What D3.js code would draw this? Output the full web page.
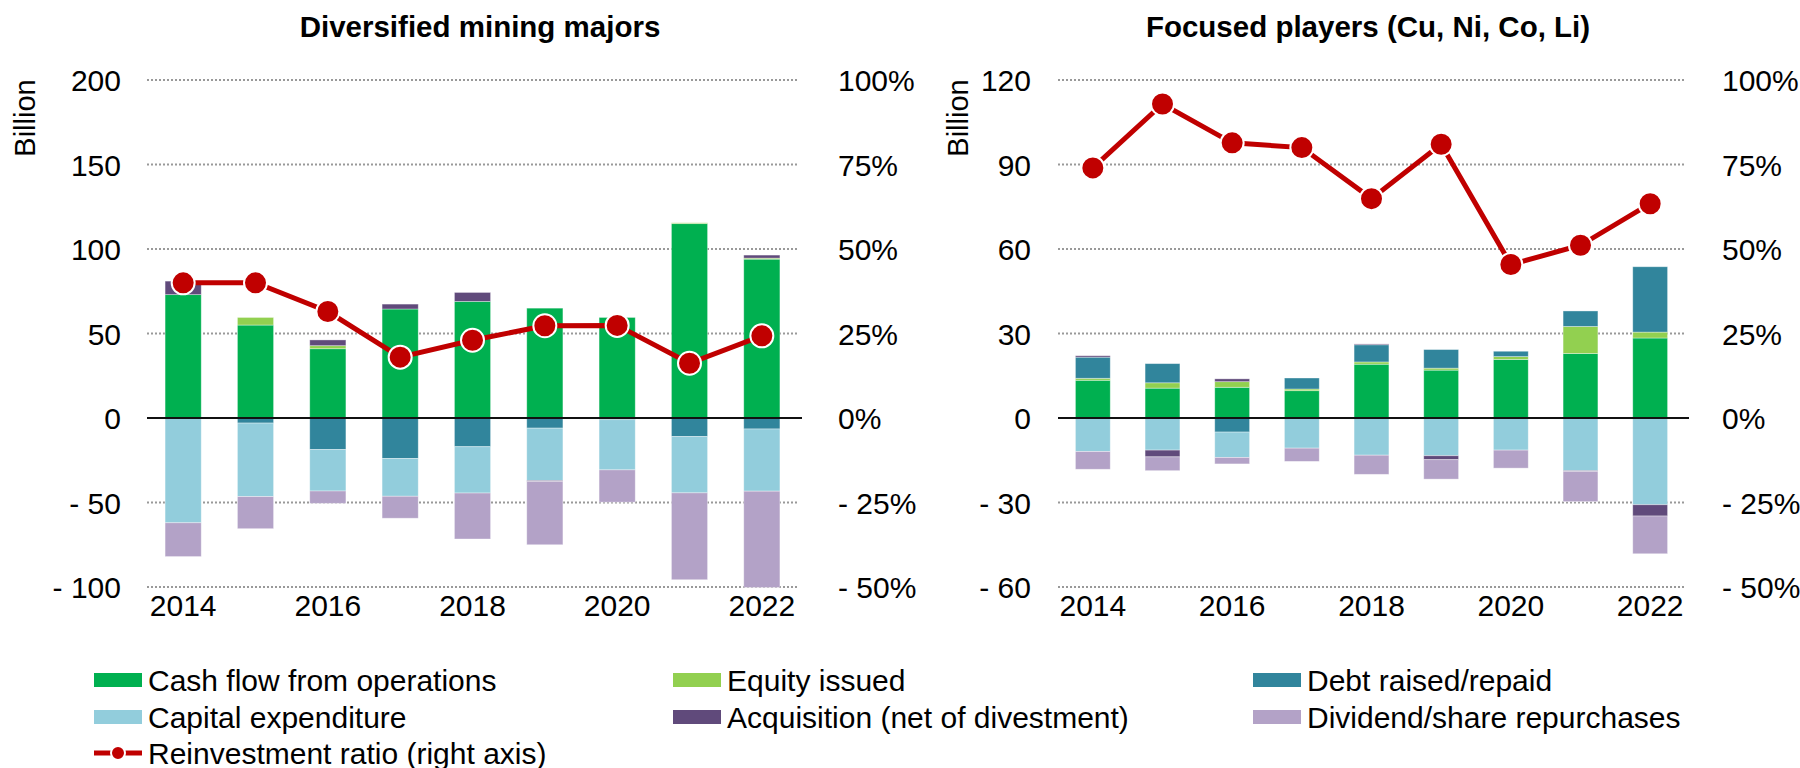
<!DOCTYPE html>
<html>
<head>
<meta charset="utf-8">
<script src="https://cdn.jsdelivr.net/npm/d3@7"></script>
<style>
  body { margin: 0; background: #fff; }
  text { font-family: "Liberation Sans", Arial, sans-serif; fill: #000; }
</style>
</head>
<body>
<div id="graph"></div>
<script>
// years on the x axis, only even ones get a label
var years = [2014, 2015, 2016, 2017, 2018, 2019, 2020, 2021, 2022];
var yearLabels = [2014, 2016, 2018, 2020, 2022];

// Diversified mining majors (billion, ratio in %)
var majorsCfo    = [73, 55, 41, 64.5, 69, 65, 59.5, 115, 94];
var majorsEquity = [0, 4.5, 1.8, 0, 0, 0, 0, 0.5, 0.6];
var majorsDebt   = [0, -3, -18.7, -24, -17, -6, -1, -11, -6.5];
var majorsCapex  = [-62, -43.5, -24.5, -22.3, -27.4, -31, -29.7, -33.3, -36.8];
var majorsAcq    = [8, 0, 3.4, 2.9, 5.3, -0.6, 0, 0, 1.8];
var majorsDiv    = [-20, -19, -7.3, -13, -27.2, -37.4, -19.1, -51.4, -57];
var majorsRatio  = [40, 40, 31.5, 18, 23, 27.3, 27.4, 16.2, 24.3];
var majorsTicks  = [200, 150, 100, 50, 0, -50, -100];

// Focused players (Cu, Ni, Co, Li)
var focusedCfo    = [13.4, 10.6, 10.9, 9.7, 19.1, 17, 20.8, 22.9, 28.4];
var focusedEquity = [0.7, 1.9, 2, 0.6, 0.8, 0.7, 1, 9.6, 2.1];
var focusedDebt   = [7.5, 6.8, -5, 3.9, 6.1, 6.6, 1.9, 5.5, 23.2];
var focusedCapex  = [-11.9, -11.4, -9, -10.7, -13.2, -13.4, -11.4, -18.7, -30.8];
var focusedAcq    = [0.5, -2.4, 1, 0, 0.3, -1.4, 0, -0.3, -4];
var focusedDiv    = [-6.3, -4.9, -2.3, -4.7, -6.8, -6.9, -6.4, -10.7, -13.4];
var focusedRatio  = [74, 92.9, 81.4, 80, 64.9, 81, 45.4, 51.1, 63.4];
var focusedTicks  = [120, 90, 60, 30, 0, -30, -60];

var pctTicks = [100, 75, 50, 25, 0, -25, -50];

var seriesKeys = ["cfo", "equity", "debt", "capex", "acq", "div"];
var seriesNames = {
    cfo: "Cash flow from operations",
    equity: "Equity issued",
    debt: "Debt raised/repaid",
    capex: "Capital expenditure",
    acq: "Acquisition (net of divestment)",
    div: "Dividend/share repurchases"
};
var colors = {
    cfo: "#00B050",
    equity: "#92D050",
    debt: "#31859C",
    capex: "#92CDDC",
    acq: "#604A7B",
    div: "#B3A2C7"
};
var lineColor = "#C00000";
var fontSize = "30px";

var svg = d3.select("#graph")
    .append("svg")
    .attr("width", 1800)
    .attr("height", 768);

function fmtNum(v) {
    return v < 0 ? "- " + Math.abs(v) : "" + v;
}

function drawPanel(p) {
    var g = svg.append("g");

    var table = years.map(function (yr, i) {
        return {year: yr, cfo: p.cfo[i], equity: p.equity[i], debt: p.debt[i],
            capex: p.capex[i], acq: p.acq[i], div: p.div[i], ratio: p.ratio[i]};
    });

    var x = d3.scaleBand()
        .domain(years)
        .range([p.left, p.right])
        .paddingInner(0.5)
        .paddingOuter(0.25);
    var y = d3.scaleLinear()
        .domain([p.ticks[p.ticks.length - 1], p.ticks[0]])
        .range([587, 80]);
    var yPct = d3.scaleLinear()
        .domain([-50, 100])
        .range([587, 80]);

    // title
    g.append("text")
        .attr("x", p.titleX)
        .attr("y", 37)
        .attr("text-anchor", "middle")
        .style("font-size", "29.5px")
        .style("font-weight", "bold")
        .text(p.title);

    // y label
    g.append("text")
        .attr("transform", "translate(" + p.billionX + ",118) rotate(-90)")
        .attr("text-anchor", "middle")
        .style("font-size", "29px")
        .text("Billion");

    // dotted grid (skip zero, drawn solid later)
    g.selectAll(".grid")
        .data(p.ticks.filter(function (t) { return t !== 0; }))
        .enter().append("line")
        .attr("x1", p.left)
        .attr("x2", p.right)
        .attr("y1", function (d) { return y(d); })
        .attr("y2", function (d) { return y(d); })
        .attr("stroke", "#999")
        .attr("stroke-width", 2)
        .attr("stroke-dasharray", "2,2");

    // left axis
    var yAxis = g.append("g")
        .attr("transform", "translate(" + p.left + ",0)")
        .call(d3.axisLeft(y).tickValues(p.ticks).tickSize(0).tickPadding(p.left - p.labelRight).tickFormat(fmtNum));
    yAxis.select(".domain").remove();
    yAxis.selectAll("text").style("font-size", fontSize).style("font-family", "Liberation Sans, Arial, sans-serif").attr("dy", "0.35em");

    // right axis
    var rAxis = g.append("g")
        .attr("transform", "translate(" + p.right + ",0)")
        .call(d3.axisRight(yPct).tickValues(pctTicks).tickSize(0).tickPadding(p.pctLeft - p.right)
            .tickFormat(function (d) { return fmtNum(d) + "%"; }));
    rAxis.select(".domain").remove();
    rAxis.selectAll("text").style("font-size", fontSize).style("font-family", "Liberation Sans, Arial, sans-serif").attr("dy", "0.35em");

    // stacked bars
    var stack = d3.stack().keys(seriesKeys).offset(d3.stackOffsetDiverging);
    var layers = stack(table);

    g.selectAll(".layer")
        .data(layers)
        .enter().append("g")
        .attr("fill", function (d) { return colors[d.key]; })
        .selectAll("rect")
        .data(function (d) { return d; })
        .enter().append("rect")
        .attr("x", function (d) { return x(d.data.year); })
        .attr("width", x.bandwidth())
        .attr("y", function (d) { return y(Math.max(d[0], d[1])); })
        .attr("height", function (d) { return Math.abs(y(d[0]) - y(d[1])); })
        .attr("stroke", "#ffffff")
        .attr("stroke-opacity", 0.45)
        .attr("stroke-width", 0.8);

    // zero line
    g.append("line")
        .attr("x1", p.left)
        .attr("x2", p.right + 4)
        .attr("y1", y(0))
        .attr("y2", y(0))
        .attr("stroke", "#111")
        .attr("stroke-width", 2);

    // x labels
    var xAxis = g.append("g")
        .attr("transform", "translate(0," + 587 + ")")
        .call(d3.axisBottom(x).tickValues(yearLabels).tickSize(0).tickPadding(8));
    xAxis.select(".domain").remove();
    xAxis.selectAll("text").style("font-size", fontSize).style("font-family", "Liberation Sans, Arial, sans-serif");

    // reinvestment ratio
    var line = d3.line()
        .x(function (d) { return x(d.year) + x.bandwidth() / 2; })
        .y(function (d) { return yPct(d.ratio); });
    g.append("path")
        .datum(table)
        .attr("d", line)
        .attr("fill", "none")
        .attr("stroke", lineColor)
        .attr("stroke-width", 5);
    g.selectAll(".dot")
        .data(table)
        .enter().append("circle")
        .attr("cx", function (d) { return x(d.year) + x.bandwidth() / 2; })
        .attr("cy", function (d) { return yPct(d.ratio); })
        .attr("r", 11.5)
        .attr("fill", lineColor)
        .attr("stroke", "#fff")
        .attr("stroke-width", 2);
}

drawPanel({
    title: "Diversified mining majors", titleX: 480, billionX: 35,
    left: 147, right: 798, labelRight: 121, pctLeft: 838,
    ticks: majorsTicks,
    cfo: majorsCfo, equity: majorsEquity, debt: majorsDebt, capex: majorsCapex,
    acq: majorsAcq, div: majorsDiv, ratio: majorsRatio
});

drawPanel({
    title: "Focused players (Cu, Ni, Co, Li)", titleX: 1368, billionX: 968,
    left: 1058, right: 1685, labelRight: 1031, pctLeft: 1722,
    ticks: focusedTicks,
    cfo: focusedCfo, equity: focusedEquity, debt: focusedDebt, capex: focusedCapex,
    acq: focusedAcq, div: focusedDiv, ratio: focusedRatio
});

// legend
var legendCols = [94, 673, 1253];
var legendRows = [680, 717, 753];
var legendItems = ["cfo", "equity", "debt", "capex", "acq", "div"];

var legend = svg.append("g");
legendItems.forEach(function (k, i) {
    var lx = legendCols[i % 3], ly = legendRows[Math.floor(i / 3)];
    legend.append("rect")
        .attr("x", lx).attr("y", ly - 7)
        .attr("width", 48).attr("height", 14)
        .attr("fill", colors[k]);
    legend.append("text")
        .attr("x", lx + 54).attr("y", ly)
        .attr("dy", "0.35em")
        .style("font-size", fontSize)
        .text(seriesNames[k]);
});
legend.append("line")
    .attr("x1", 94).attr("x2", 142)
    .attr("y1", legendRows[2]).attr("y2", legendRows[2])
    .attr("stroke", lineColor).attr("stroke-width", 5);
legend.append("circle")
    .attr("cx", 118).attr("cy", legendRows[2]).attr("r", 7)
    .attr("fill", lineColor).attr("stroke", "#fff").attr("stroke-width", 2);
legend.append("text")
    .attr("x", 148).attr("y", legendRows[2])
    .attr("dy", "0.35em")
    .style("font-size", fontSize)
    .text("Reinvestment ratio (right axis)");
</script>
</body>
</html>
